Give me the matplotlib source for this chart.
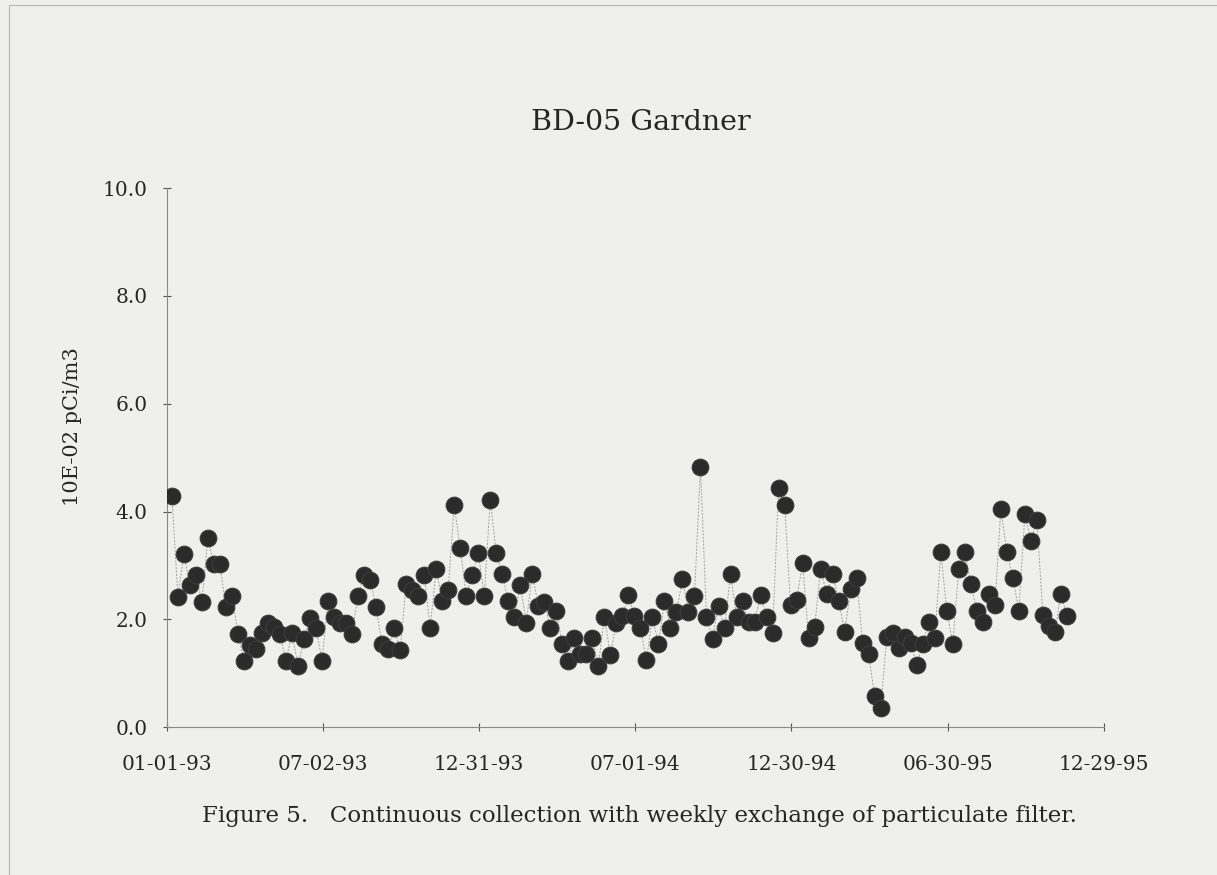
import matplotlib
matplotlib.use("Agg")
import matplotlib.pyplot as plt
from matplotlib.patches import Rectangle
import pandas as pd

title = "BD-05 Gardner"
ylabel = "10E-02 pCi/m3"
caption = "Figure 5.   Continuous collection with weekly exchange of particulate filter."

tick_dates = ["1993-01-01", "1993-07-02", "1993-12-31", "1994-07-01",
              "1994-12-30", "1995-06-30", "1995-12-29"]
tick_labels = ["01-01-93", "07-02-93", "12-31-93", "07-01-94",
               "12-30-94", "06-30-95", "12-29-95"]
yticks = [0.0, 2.0, 4.0, 6.0, 8.0, 10.0]

values = [
    4.29, 2.42, 3.21, 2.63, 2.82, 2.33, 3.50, 3.02, 3.02, 2.22,
    2.44, 1.73, 1.22, 1.52, 1.45, 1.74, 1.93, 1.86, 1.72, 1.23,
    1.74, 1.13, 1.63, 2.02, 1.84, 1.23, 2.34, 2.05, 1.93, 1.93,
    1.73, 2.44, 2.83, 2.73, 2.23, 1.54, 1.45, 1.83, 1.43, 2.65,
    2.55, 2.43, 2.83, 1.84, 2.94, 2.34, 2.54, 4.12, 3.33, 2.44,
    2.83, 3.23, 2.44, 4.22, 3.23, 2.84, 2.34, 2.05, 2.63, 1.94,
    2.84, 2.25, 2.33, 1.84, 2.15, 1.54, 1.23, 1.65, 1.35, 1.35,
    1.65, 1.14, 2.05, 1.34, 1.94, 2.06, 2.45, 2.06, 1.83, 1.24,
    2.05, 1.54, 2.34, 1.83, 2.14, 2.74, 2.14, 2.44, 4.82, 2.05,
    1.63, 2.25, 1.83, 2.84, 2.05, 2.34, 1.95, 1.95, 2.45, 2.05,
    1.75, 4.44, 4.13, 2.26, 2.36, 3.05, 1.65, 1.86, 2.94, 2.47,
    2.85, 2.34, 1.77, 2.56, 2.76, 1.56, 1.35, 0.57, 0.36, 1.67,
    1.75, 1.47, 1.67, 1.56, 1.15, 1.55, 1.95, 1.66, 3.25, 2.16,
    1.55, 2.94, 3.25, 2.65, 2.16, 1.95, 2.47, 2.26, 4.04, 3.25,
    2.76, 2.16, 3.95, 3.46, 3.84, 2.08, 1.87, 1.76, 2.47, 2.07,
]
start_date = "1993-01-07"
dates = pd.date_range(start_date, periods=len(values), freq="7D")

bg = "#efefed"
ink = "#262626"
serif = ["DejaVu Serif"]

fig = plt.figure(figsize=(12.17, 8.75), dpi=100, facecolor=bg)
ax = fig.add_axes([0.137, 0.169, 0.770, 0.616])
ax.set_facecolor(bg)

ax.plot(dates, values, color="#a0a0a0", lw=0.7, ls=(0, (2, 1.5)), zorder=2)
ax.plot(dates, values, ls="none", marker="o", ms=12, mfc="#2b2b2b",
        mec="#3c3c3c", mew=0.8, zorder=3)

ax.set_xlim(pd.Timestamp(tick_dates[0]), pd.Timestamp(tick_dates[-1]))
ax.set_ylim(0, 10)
ax.set_xticks(pd.to_datetime(tick_dates))
ax.set_xticklabels(tick_labels)
ax.set_yticks(yticks)
ax.set_yticklabels([f"{v:.1f}" for v in yticks])

for s in ["top", "right"]:
    ax.spines[s].set_visible(False)
for s in ["left", "bottom"]:
    ax.spines[s].set_color("#8a8a8a")
    ax.spines[s].set_linewidth(0.8)

ax.tick_params(axis="both", direction="inout", length=6, width=0.8,
               color="#555555", labelcolor=ink, labelsize=14.5)
ax.tick_params(axis="x", pad=17)
ax.tick_params(axis="y", pad=11)
for lab in ax.get_xticklabels() + ax.get_yticklabels():
    lab.set_family(serif)

fig.text(72 / 1217, 1 - 427 / 875, ylabel, rotation=90, ha="center", va="center",
         family=serif, fontsize=15, color=ink)

fig.text(641 / 1217, 1 - 122 / 875, title, ha="center", va="center", family=serif,
         fontsize=20.5, color=ink)
fig.text(639 / 1217, 1 - 816 / 875, caption, ha="center", va="center", family=serif,
         fontsize=16.5, color=ink)

fig.patches.append(Rectangle((0.007, -0.01), 1.1, 1.004, transform=fig.transFigure,
                             fill=False, edgecolor="#b5b5b5", lw=0.8))

fig.savefig("out.png", dpi=100, facecolor=bg)
